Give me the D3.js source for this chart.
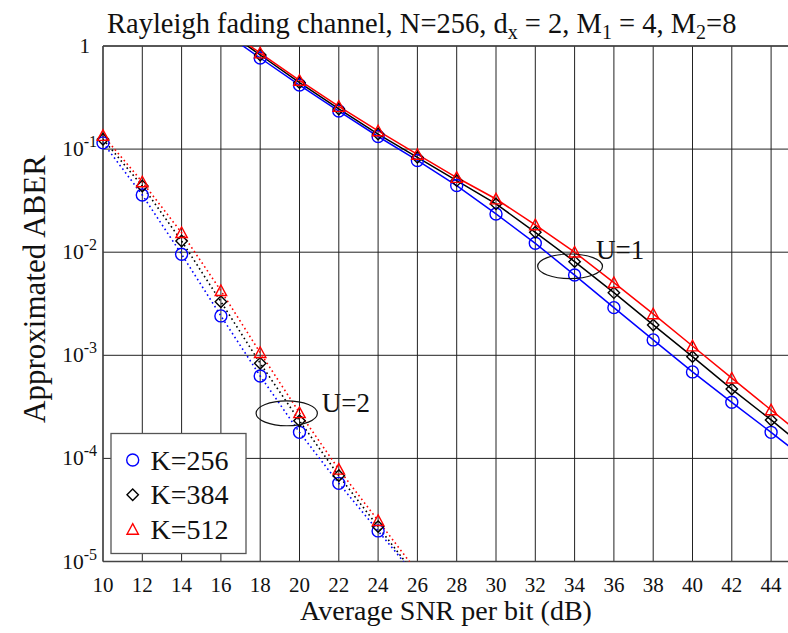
<!DOCTYPE html>
<html>
<head>
<meta charset="utf-8">
<script src="https://cdn.jsdelivr.net/npm/d3@7/dist/d3.min.js"></script>
<style>
  html, body { margin: 0; padding: 0; background: #fff; }
  svg { display: block; font-family: "Liberation Serif", "Times New Roman", serif; }
</style>
</head>
<body>
<svg id="chart" width="788" height="633"></svg>
<script>
// SNR grid (dB) and tick values
const xTicks = [10, 12, 14, 16, 18, 20, 22, 24, 26, 28, 30, 32, 34, 36, 38, 40, 42, 44];
const yTickExp = [0, -1, -2, -3, -4, -5];

// U = 1 (solid curves); endpoints at 17 and 45 dB run past the plot edges
const snrU1 = [17, 18, 20, 22, 24, 26, 28, 30, 32, 34, 36, 38, 40, 42, 44, 45];
const aberU1K256 = [1.04, 0.765, 0.418, 0.234, 0.1325, 0.0776, 0.0443, 0.0235, 0.0122, 0.0060, 0.0029, 0.00141, 0.00069, 0.00035, 0.000179, 0.000127];
const aberU1K384 = [1.12, 0.818, 0.441, 0.245, 0.140, 0.0832, 0.0494, 0.0294, 0.0156, 0.0081, 0.00405, 0.00197, 0.00097, 0.00047, 0.000236, 0.000165];
const aberU1K512 = [1.16, 0.855, 0.463, 0.259, 0.150, 0.0887, 0.053, 0.0328, 0.0184, 0.0100, 0.00506, 0.00252, 0.00123, 0.00060, 0.000295, 0.000206];

// U = 2 (dotted curves); the 26 dB point lies below the axis floor
const snrU2 = [10, 12, 14, 16, 18, 20, 22, 24, 26];
const aberU2K256 = [0.115, 0.0359, 0.00955, 0.00241, 0.00063, 0.000179, 5.73e-5, 1.98e-5, 6.9e-6];
const aberU2K384 = [0.1245, 0.0439, 0.01285, 0.00331, 0.000836, 0.000232, 6.8e-5, 2.18e-5, 7.0e-6];
const aberU2K512 = [0.1355, 0.048, 0.01545, 0.00423, 0.00106, 0.000277, 7.84e-5, 2.49e-5, 7.9e-6];

const seriesNames = ["K=256", "K=384", "K=512"];
const seriesColors = ["#0000ff", "#000000", "#ff0000"];
const seriesMarkers = ["circle", "diamond", "triangle"];

// Group annotations (data coordinates): ellipse centre, radii (dB, decades), label anchor
const groupNotes = [
  { label: "U=1", cx: 33.77, cy: 0.0073, rxDb: 1.65, ryDec: 0.119, lx: 35.09, ly: 0.0086 },
  { label: "U=2", cx: 19.35, cy: 2.74e-4, rxDb: 1.56, ryDec: 0.121, lx: 21.13, ly: 2.84e-4 }
];

const svg = d3.select("#chart");
const plotLeft = 103, plotTop = 46, plotBottom = 561.5;
const pxPerDb = 19.65;

const x = d3.scaleLinear().domain([10, 45]).range([plotLeft, plotLeft + 35 * pxPerDb]);
const y = d3.scaleLog().domain([1e-5, 1]).range([plotBottom, plotTop]);

svg.append("defs").append("clipPath").attr("id", "plotClip")
  .append("rect").attr("x", plotLeft).attr("y", plotTop)
  .attr("width", x(45) - plotLeft).attr("height", plotBottom - plotTop);

// grid
const grid = svg.append("g");
grid.selectAll("line.v").data(xTicks).join("line")
  .attr("x1", d => x(d)).attr("x2", d => x(d))
  .attr("y1", plotTop).attr("y2", plotBottom)
  .attr("stroke", "#222").attr("stroke-width", 1);
grid.selectAll("line.h").data(yTickExp).join("line")
  .attr("x1", plotLeft).attr("x2", x(45))
  .attr("y1", d => y(Math.pow(10, d))).attr("y2", d => y(Math.pow(10, d)))
  .attr("stroke", "#222").attr("stroke-width", 1);

// axes frame
svg.append("line").attr("x1", plotLeft).attr("x2", plotLeft).attr("y1", plotTop).attr("y2", plotBottom)
  .attr("stroke", "#444").attr("stroke-width", 1.3);
svg.append("line").attr("x1", plotLeft).attr("x2", x(45)).attr("y1", plotBottom).attr("y2", plotBottom)
  .attr("stroke", "#444").attr("stroke-width", 1.3);
svg.append("line").attr("x1", plotLeft).attr("x2", x(45)).attr("y1", plotTop).attr("y2", plotTop)
  .attr("stroke", "#444").attr("stroke-width", 1.3);

// x tick labels
svg.append("g").selectAll("text").data(xTicks).join("text")
  .attr("x", d => x(d)).attr("y", 592)
  .attr("text-anchor", "middle").attr("font-size", 21).attr("fill", "#111")
  .text(d => d);

// y tick labels (powers of ten)
const yl = svg.append("g");
yTickExp.forEach(e => {
  const yy = y(Math.pow(10, e));
  if (e === 0) {
    yl.append("text").attr("x", 90).attr("y", yy + 7).attr("text-anchor", "end")
      .attr("font-size", 21).attr("fill", "#111").text("1");
  } else {
    const t = yl.append("text").attr("x", 97).attr("y", yy + 7).attr("text-anchor", "end")
      .attr("font-size", 21.5).attr("fill", "#111");
    t.append("tspan").text("10");
    t.append("tspan").attr("dy", -9).attr("font-size", 16).text(String(e));
  }
});

// axis titles
svg.append("text").attr("x", 446).attr("y", 620).attr("text-anchor", "middle")
  .attr("font-size", 28).attr("fill", "#111").text("Average SNR per bit (dB)");
svg.append("text").attr("transform", "translate(45,289) rotate(-90)")
  .attr("text-anchor", "middle").attr("font-size", 31).attr("fill", "#111")
  .text("Approximated ABER");

// title with subscripts
const title = svg.append("text").attr("x", 107).attr("y", 33).attr("font-size", 28.5).attr("fill", "#111");
title.append("tspan").text("Rayleigh fading channel, N=256, d");
title.append("tspan").attr("dy", 6).attr("font-size", 20).text("x");
title.append("tspan").attr("dy", -6).text(" = 2, M");
title.append("tspan").attr("dy", 6).attr("font-size", 20).text("1");
title.append("tspan").attr("dy", -6).text(" = 4, M");
title.append("tspan").attr("dy", 6).attr("font-size", 20).text("2");
title.append("tspan").attr("dy", -6).text("=8");

// marker drawing
function drawMarker(g, kind, cx, cy, color, s) {
  if (kind === "circle") {
    g.append("circle").attr("cx", cx).attr("cy", cy).attr("r", s)
      .attr("fill", "none").attr("stroke", color).attr("stroke-width", 1.4);
  } else if (kind === "diamond") {
    const d = s * 0.95;
    g.append("path").attr("d", `M${cx},${cy - d}L${cx + d},${cy}L${cx},${cy + d}L${cx - d},${cy}Z`)
      .attr("fill", "none").attr("stroke", color).attr("stroke-width", 1.4);
  } else {
    const h = s * 0.95;
    g.append("path").attr("d", `M${cx},${cy - h}L${cx + h},${cy + h * 0.85}L${cx - h},${cy + h * 0.85}Z`)
      .attr("fill", "none").attr("stroke", color).attr("stroke-width", 1.4);
  }
}

const line = d3.line().x(d => x(d[0])).y(d => y(d[1]));
const plot = svg.append("g").attr("clip-path", "url(#plotClip)");
const u1Sets = [aberU1K256, aberU1K384, aberU1K512];
const u2Sets = [aberU2K256, aberU2K384, aberU2K512];

// curves
u2Sets.forEach((vals, i) => {
  plot.append("path").datum(snrU2.map((s, j) => [s, vals[j]]))
    .attr("d", line).attr("fill", "none").attr("stroke", seriesColors[i])
    .attr("stroke-width", 1.6).attr("stroke-dasharray", "1.6,3");
});
u1Sets.forEach((vals, i) => {
  plot.append("path").datum(snrU1.map((s, j) => [s, vals[j]]))
    .attr("d", line).attr("fill", "none").attr("stroke", seriesColors[i])
    .attr("stroke-width", 1.5);
});

// markers at the even-dB points
const mk = svg.append("g");
[0, 1, 2].forEach(i => {
  snrU1.forEach((s, j) => {
    if (s % 2 === 0) drawMarker(mk, seriesMarkers[i], x(s), y(u1Sets[i][j]), seriesColors[i], 6);
  });
  snrU2.forEach((s, j) => {
    if (s <= 24) drawMarker(mk, seriesMarkers[i], x(s), y(u2Sets[i][j]), seriesColors[i], 6);
  });
});

// group ellipses and labels
groupNotes.forEach(n => {
  const cx = x(n.cx), cy = y(n.cy);
  const rx = x(n.cx + n.rxDb) - cx;
  const ry = y(n.cy) - y(n.cy * Math.pow(10, n.ryDec));
  svg.append("ellipse").attr("cx", cx).attr("cy", cy).attr("rx", rx).attr("ry", ry)
    .attr("fill", "none").attr("stroke", "#111").attr("stroke-width", 1.2);
  svg.append("text").attr("x", x(n.lx)).attr("y", y(n.ly)).attr("font-size", 27)
    .attr("fill", "#111").text(n.label);
});

// legend
const lg = svg.append("g");
lg.append("rect").attr("x", 111).attr("y", 433.5).attr("width", 135).attr("height", 120)
  .attr("fill", "#fff").attr("stroke", "#555").attr("stroke-width", 1.3);
seriesNames.forEach((name, i) => {
  const ry = 460 + i * 34.7;
  drawMarker(lg, seriesMarkers[i], 132.7, ry, seriesColors[i], 6);
  lg.append("text").attr("x", 150.5).attr("y", ry + 9.5).attr("font-size", 28)
    .attr("fill", "#111").text(name);
});
</script>
</body>
</html>
